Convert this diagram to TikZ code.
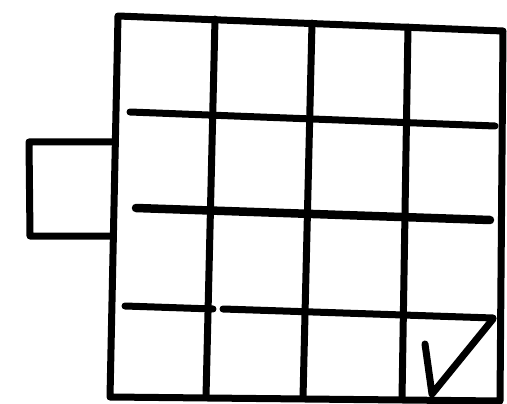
\documentclass[tikz,border=0pt]{standalone}
\begin{document}
\begin{tikzpicture}[x=1pt, y=-1pt, pen/.style={line width=7pt, line cap=round, line join=round}]
        \useasboundingbox (0,0) rectangle (507,404);
        % frame of the grid
        \coordinate (tl) at (118,16);
        \coordinate (tr) at (503,31);
        \coordinate (br) at (500,401);
        \coordinate (bl) at (110,397);
        \draw[pen] (tl)--(tr)--(br)--(bl)--cycle;
        % inner columns
        \draw[pen] (215,19)--(206,397);
        \draw[pen] (312,23)--(303,398);
        \draw[pen] (408,27)--(402,399);
        % inner rows
        \draw[pen] (130,112)--(495,126);
        \draw[pen, line width=8.5pt] (136,208)--(490,220);
        \draw[pen] (125,306)--(213,309);
        \draw[pen] (223,309)--(493,318);
        % tab on the left
        \draw[pen] (113,142)--(29,142)--(30,236)--(111,236);
        % tick in the last cell
        \draw[pen] (425,344)--(432,394)--(493,319);
      \end{tikzpicture}
\end{document}
